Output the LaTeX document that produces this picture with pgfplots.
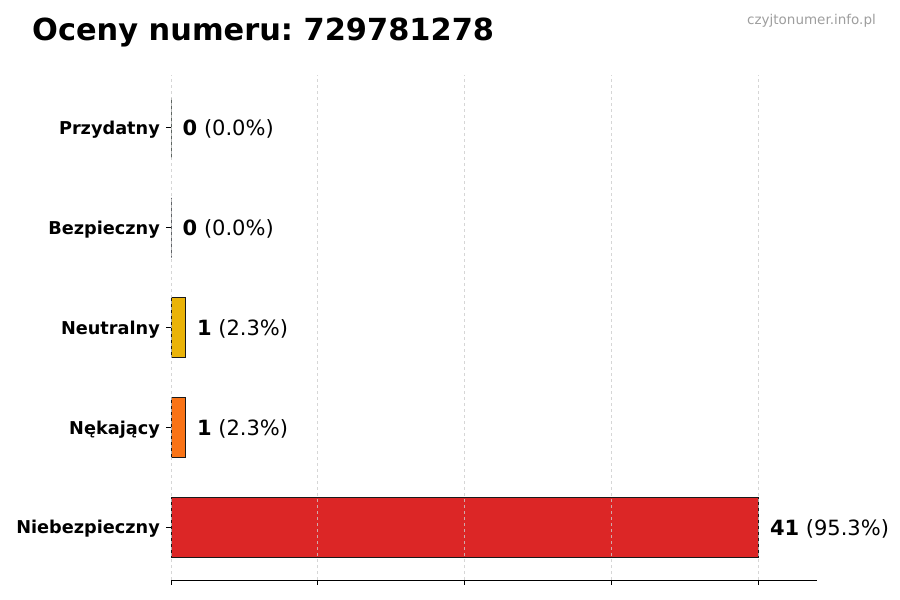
\documentclass[border=0pt]{standalone}
\usepackage{pgfplots}
\pgfplotsset{compat=1.18}
\usepackage{fontspec}
\setmainfont{DejaVu Sans}
\frenchspacing

\definecolor{cYellow}{HTML}{EAB308}
\definecolor{cOrange}{HTML}{F97316}
\definecolor{cRed}{HTML}{DC2626}
\definecolor{cGreen}{HTML}{22C55E}
\definecolor{cBlue}{HTML}{3B82F6}

\begin{document}
\begin{tikzpicture}[x=1pt,y=1pt]
% page: 900x600, axis lower left at pixel (171,580)
\useasboundingbox (-171,-20) rectangle (729,580);
\node[anchor=base west,inner sep=0pt,font=\fontsize{30.4}{30.4}\selectfont\bfseries] at (-139,539) {Oceny numeru: 729781278};
\node[anchor=base east,inner sep=0pt,font=\fontsize{13.5}{13.5}\selectfont,text=black!38] at (705,555) {czyjtonumer.info.pl};
\begin{axis}[
    at={(0,0)}, anchor=south west,
    scale only axis,
    width=646pt, height=505pt,
    xmin=0, xmax=45.1,
    ymin=-0.53, ymax=4.53,
    xtick={0,10.25,20.5,30.75,41},
    xticklabels={},
    ytick={0,1,2,3,4},
    yticklabels={Niebezpieczny,Nękający,Neutralny,Bezpieczny,Przydatny},
    yticklabel style={font=\fontsize{17.7}{17.7}\selectfont\bfseries, inner sep=0pt, xshift=-6pt, yshift=-2pt},
    tick align=outside,
    major tick length=5pt,
    tick style={black, line width=0.8pt},
    axis x line*=bottom,
    axis y line*=left,
    y axis line style={draw=none},
    x axis line style={line width=0.9pt, -},
    xmajorgrids,
    grid style={dashed, black!20, line width=0.7pt, opacity=0.8},
    axis on top,
    xbar,
    bar width=0.6,
    point meta=explicit symbolic,
    nodes near coords,
    every node near coord/.append style={anchor=west, xshift=8pt, yshift=-1.5pt, font=\fontsize{21}{21}\selectfont, text=black},
    clip=false,
]
\addplot[xbar, bar shift=0pt, fill=cRed, draw=black!90, line width=0.8pt]
  coordinates {(41,0) [\textbf{41} (95.3\%)]};
\addplot[xbar, bar shift=0pt, fill=cOrange, draw=black!90, line width=0.8pt]
  coordinates {(1,1) [\textbf{1} (2.3\%)]};
\addplot[xbar, bar shift=0pt, fill=cYellow, draw=black!90, line width=0.8pt]
  coordinates {(1,2) [\textbf{1} (2.3\%)]};
\addplot[xbar, bar shift=0pt, fill=cBlue, draw=black!90, line width=0.8pt]
  coordinates {(0,3) [\textbf{0} (0.0\%)]};
\addplot[xbar, bar shift=0pt, fill=cGreen, draw=black!90, line width=0.8pt]
  coordinates {(0,4) [\textbf{0} (0.0\%)]};
\end{axis}
\end{tikzpicture}
\end{document}
